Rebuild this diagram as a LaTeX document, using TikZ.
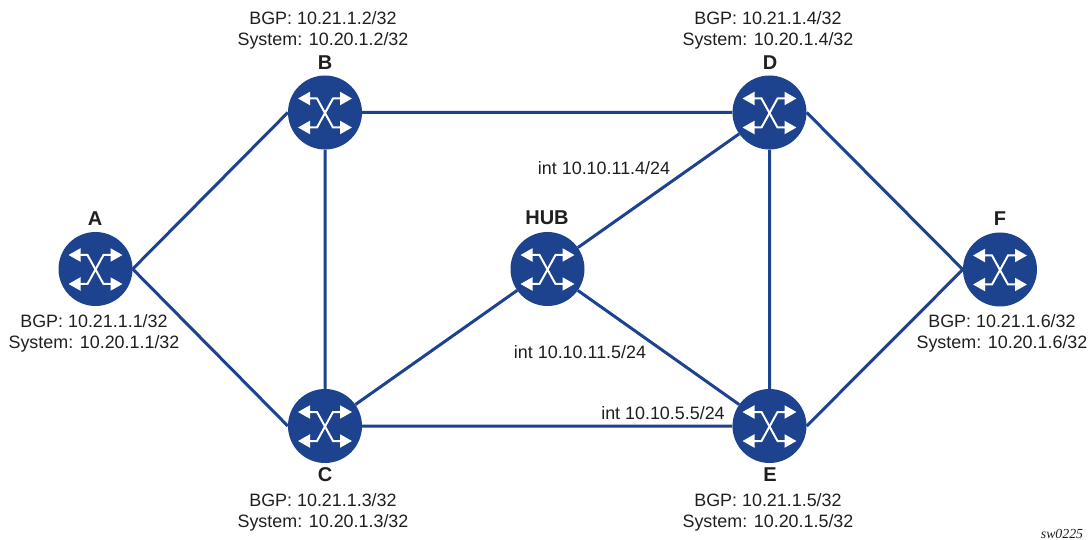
\documentclass[tikz,border=0pt]{standalone}
\usepackage{fontspec}
\setmainfont{Liberation Sans}
\newfontfamily\tagfont{Liberation Serif}
\usetikzlibrary{arrows.meta}
\definecolor{nokia}{HTML}{1D438F}
\tikzset{
  x=1pt,y=-1pt,
  router/.style={circle,fill=nokia,draw=none,inner sep=0pt,minimum size=74pt,
    path picture={
      \begin{scope}[shift={(path picture bounding box.center)},line width=2pt,white]
        \draw[{Triangle[length=12pt,width=13pt]}-{Triangle[length=12pt,width=13pt]}] (-27,-14) -- (-8,-14) -- (8,15) -- (27,15);
        \draw[{Triangle[length=12pt,width=13pt]}-{Triangle[length=12pt,width=13pt]}] (-27,15) -- (-8,15) -- (8,-14) -- (27,-14);
      \end{scope}
    }},
  link/.style={draw=nokia,line width=3pt},
  addr/.style={font=\fontsize{17.9}{21}\selectfont,align=center,inner sep=0pt,text=black!88},
  rname/.style={font=\fontsize{20}{22}\selectfont\bfseries,inner sep=0pt,text=black!88},
  intf/.style={font=\fontsize{17.9}{21}\selectfont,inner sep=0pt,text=black!88},
}
\begin{document}
\begin{tikzpicture}
\useasboundingbox (0,0) rectangle (1088,540);
\node[router] (A) at (95.5,269) {};
\node[router] (B) at (325,112.5) {};
\node[router] (C) at (325,426) {};
\node[router] (D) at (769.5,112.5) {};
\node[router] (E) at (769.5,426) {};
\node[router] (F) at (1000,269.5) {};
\node[router] (HUB) at (547.5,269) {};
\draw[link] (A.east)--(B.west) (A.east)--(C.west) (B)--(C) (B)--(D) (C)--(E) (C)--(HUB)
  (HUB)--(D) (HUB)--(E) (D)--(E) (D.east)--(F.west) (E.east)--(F.west);
\node[rname] (la) at (95,219) {A};
\node[rname] (lb) at (325,63) {B};
\node[rname] (lc) at (325,475) {C};
\node[rname] (ld) at (770,63) {D};
\node[rname] (le) at (770,475) {E};
\node[rname] (lf) at (1000,219) {F};
\node[rname] (lh) at (547,218) {HUB};
\node[addr] (ta) at (94,333) {BGP: 10.21.1.1/32\\System: 10.20.1.1/32};
\node[addr] (tb) at (323,30.5) {BGP: 10.21.1.2/32\\System: 10.20.1.2/32};
\node[addr] (tc) at (323,512) {BGP: 10.21.1.3/32\\System: 10.20.1.3/32};
\node[addr] (td) at (768,30.5) {BGP: 10.21.1.4/32\\System: 10.20.1.4/32};
\node[addr] (te) at (768,512) {BGP: 10.21.1.5/32\\System: 10.20.1.5/32};
\node[addr] (tf) at (1002,333) {BGP: 10.21.1.6/32\\System: 10.20.1.6/32};
\node[intf] (i1) at (604,168) {int 10.10.11.4/24};
\node[intf] (i2) at (580,352) {int 10.10.11.5/24};
\node[intf] (i3) at (663,413) {int 10.10.5.5/24};
\node[font=\tagfont\fontsize{13.8}{15}\selectfont\itshape,inner sep=0pt,text=black!88] (sw) at (1062,534) {sw0225};
\end{tikzpicture}
\end{document}
